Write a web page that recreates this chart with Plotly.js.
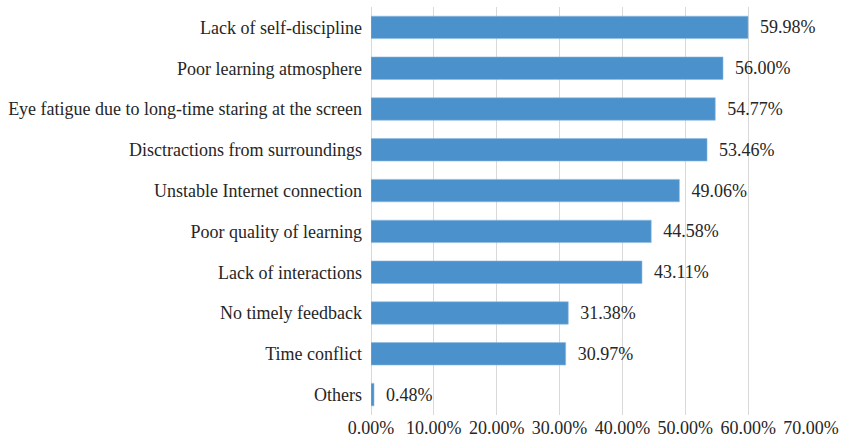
<!DOCTYPE html>
<html><head><meta charset="utf-8">
<script src="https://cdn.plot.ly/plotly-3.0.1.min.js"></script>
<style>html,body{margin:0;padding:0;background:#fff;}</style>
</head><body>
<div id="chart" style="width:841px;height:439px;"></div>
<script>
const categories = ["Lack of self-discipline","Poor learning atmosphere","Eye fatigue due to long-time staring at the screen","Disctractions from surroundings","Unstable Internet connection","Poor quality of learning","Lack of interactions","No timely feedback","Time conflict","Others"];
const values = [59.98, 56.00, 54.77, 53.46, 49.06, 44.58, 43.11, 31.38, 30.97, 0.48];
const tickVals = [0,10,20,30,40,50,60,70];
const tickText = ["0.00%","10.00%","20.00%","30.00%","40.00%","50.00%","60.00%","70.00%"];

const mkFont = () => ({family: "Liberation Serif", size: 18, color: "#262626"});
Plotly.newPlot("chart", [{
  type: "bar", orientation: "h",
  x: values, y: categories,
  marker: {color: "#4b91cb", line: {color: "#8dbbe0", width: 0.6}},
  width: 0.55,
  text: values.map(v => "\u00a0\u00a0" + v.toFixed(2) + "%"),
  textposition: "outside",
  textfont: mkFont(),
  cliponaxis: false,
  hoverinfo: "none"
}], {
  width: 841, height: 439,
  margin: {l: 371, r: 30, t: 7, b: 24, pad: 0},
  paper_bgcolor: "#fff", plot_bgcolor: "#fff",
  font: mkFont(),
  showlegend: false,
  xaxis: {range: [0, 70], tickvals: tickVals, ticktext: tickText, showgrid: true, gridcolor: "#d9d9d9", gridwidth: 1,
          zeroline: true, zerolinecolor: "#d9d9d9", zerolinewidth: 1, showline: false, ticks: "", fixedrange: true, tickfont: mkFont()},
  yaxis: {autorange: "reversed", type: "category", showgrid: false, zeroline: false, showline: false, ticks: "", ticklabelstandoff: 8, tickfont: mkFont()}
}, {staticPlot: true});
</script>
</body></html>
